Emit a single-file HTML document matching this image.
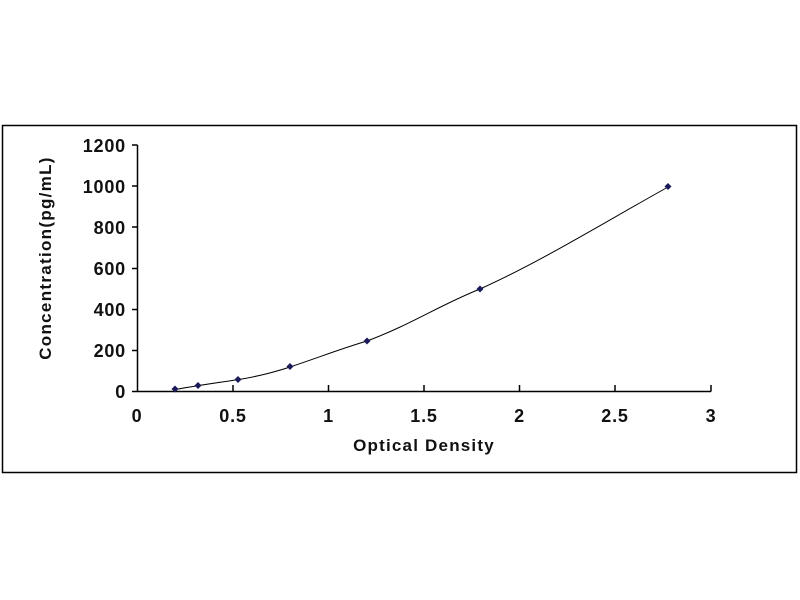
<!DOCTYPE html>
<html><head><style>body{margin:0;background:#fff}svg{display:block}</style></head><body>
<svg width="800" height="600" xmlns="http://www.w3.org/2000/svg" font-family="Liberation Sans, Arial, sans-serif" font-weight="bold">
<rect x="2.5" y="125.5" width="794" height="347" fill="#fff" stroke="#000" stroke-width="1.5"/>
<g stroke="#000" stroke-width="1.5">
<line x1="137.5" y1="145" x2="137.5" y2="391.5"/>
<line x1="137.5" y1="391.5" x2="711" y2="391.5"/>
<line x1="132" y1="145" x2="137.5" y2="145"/>
<line x1="132" y1="186" x2="137.5" y2="186"/>
<line x1="132" y1="227" x2="137.5" y2="227"/>
<line x1="132" y1="268.5" x2="137.5" y2="268.5"/>
<line x1="132" y1="309.5" x2="137.5" y2="309.5"/>
<line x1="132" y1="350.5" x2="137.5" y2="350.5"/>
<line x1="132" y1="391.5" x2="137.5" y2="391.5"/>
<line x1="233" y1="385" x2="233" y2="391.5"/>
<line x1="328.5" y1="385" x2="328.5" y2="391.5"/>
<line x1="424" y1="385" x2="424" y2="391.5"/>
<line x1="519.5" y1="385" x2="519.5" y2="391.5"/>
<line x1="615" y1="385" x2="615" y2="391.5"/>
<line x1="711" y1="385" x2="711" y2="391.5"/>
</g>
<g font-size="18" fill="#111" text-anchor="end" letter-spacing="0.8">
<text x="126" y="152">1200</text>
<text x="126" y="193">1000</text>
<text x="126" y="234">800</text>
<text x="126" y="275">600</text>
<text x="126" y="316">400</text>
<text x="126" y="357">200</text>
<text x="126" y="398">0</text>
</g>
<g font-size="18" fill="#111" text-anchor="middle" letter-spacing="0.8">
<text x="137" y="422">0</text>
<text x="233" y="422">0.5</text>
<text x="328.5" y="422">1</text>
<text x="424" y="422">1.5</text>
<text x="519.5" y="422">2</text>
<text x="615" y="422">2.5</text>
<text x="711" y="422">3</text>
<text x="424" y="451" font-size="17" letter-spacing="1.2">Optical Density</text>
<text transform="translate(51,258) rotate(-90)" font-size="17" letter-spacing="1.3">Concentration(pg/mL)</text>
</g>
<path d="M175,389.5 C200,385 215,383 239,379.5 C260,376 275,372 290,367 C320,357 340,349 367,341 C410,325 440,305 480,289 C540,262 600,225 668,187" fill="none" stroke="#000" stroke-width="1"/>
<g fill="#1a1a5a">
<path d="M175,385.5l3.5,3.5l-3.5,3.5l-3.5,-3.5z"/>
<path d="M198,382l3.5,3.5l-3.5,3.5l-3.5,-3.5z"/>
<path d="M238,376l3.5,3.5l-3.5,3.5l-3.5,-3.5z"/>
<path d="M290,363l3.5,3.5l-3.5,3.5l-3.5,-3.5z"/>
<path d="M367,337.5l3.5,3.5l-3.5,3.5l-3.5,-3.5z"/>
<path d="M480,285.5l3.5,3.5l-3.5,3.5l-3.5,-3.5z"/>
<path d="M668,183l3.5,3.5l-3.5,3.5l-3.5,-3.5z"/>
</g>
</svg>
</body></html>
